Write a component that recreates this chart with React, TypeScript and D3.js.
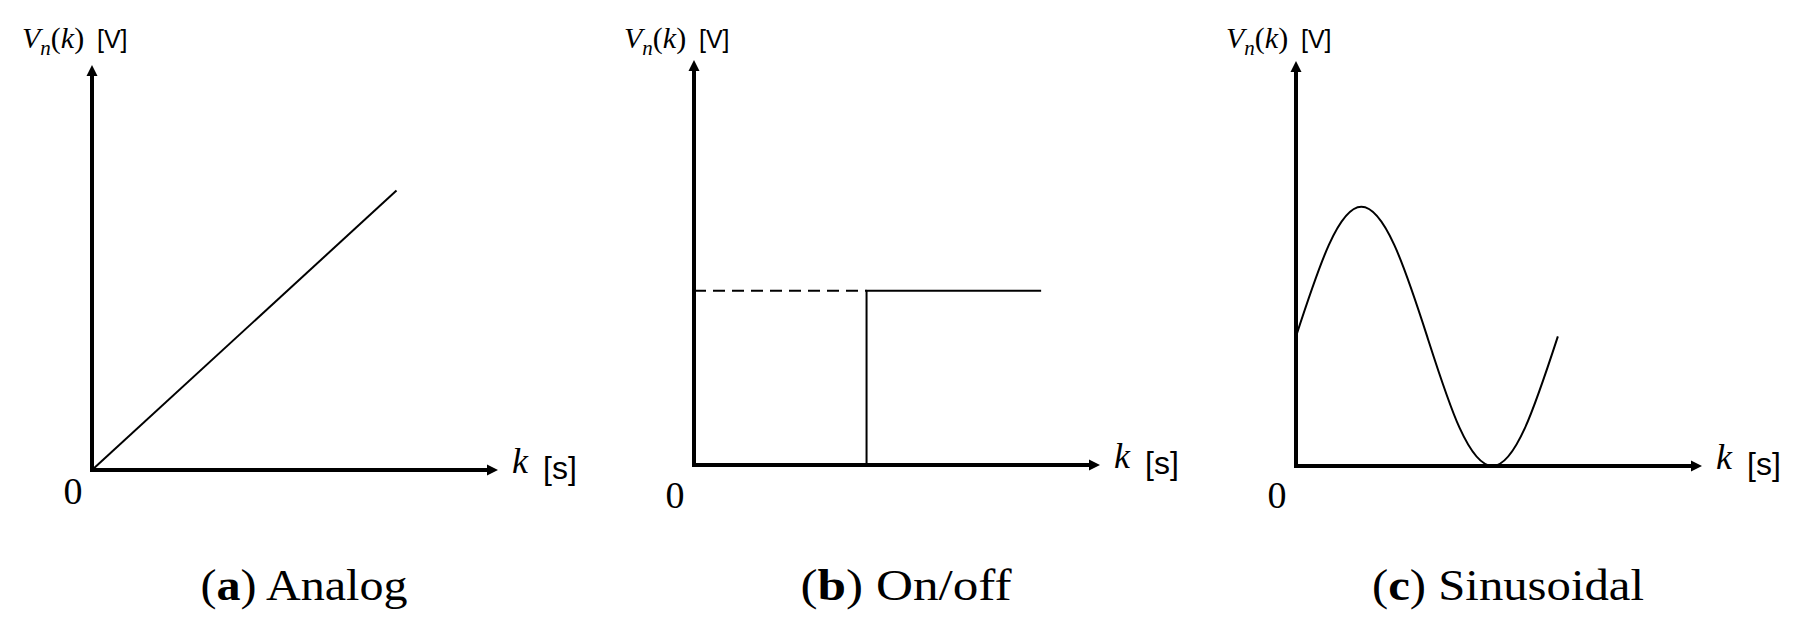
import React from "react";
import * as d3 from "d3";

const width = 1793;
const height = 624;

// axis frame of every panel, in px (x axis to arrow tip, y axis to arrow tip)
const axisW = 406;
const axisH = 405;
const serif = "Liberation Serif";
const sans = "Liberation Sans";

// data (axis domain 0..10 on both axes)
const analogK = [0, 7.5];
const analogV = [0, 6.9];

const onoffK = [4.25, 4.25, 8.55];
const onoffV = [0, 4.3, 4.3];
const onoffRefK = [0, 4.25];
const onoffRefV = [4.3, 4.3];

const sineK = [0, 0.81, 1.61, 2.42, 3.23, 4.03, 4.84, 5.64, 6.45];
const sineV = [3.2, 5.46, 6.4, 5.46, 3.2, 0.94, 0, 0.94, 3.2];

const captionLetters = ["a", "b", "c"];
const captionNames = ["Analog", "On/off", "Sinusoidal"];
const captionWidths = [207, 211, 272];

const layout = [
  { ox: 92, oy: 470, zeroY: 504 },
  { ox: 694, oy: 465, zeroY: 508 },
  { ox: 1296, oy: 466, zeroY: 508 }
];

type Series = { k: number[]; v: number[]; dashed?: boolean; curve?: d3.CurveFactory };

const seriesByPanel: Series[][] = [
  [{ k: analogK, v: analogV }],
  [
    { k: onoffRefK, v: onoffRefV, dashed: true },
    { k: onoffK, v: onoffV }
  ],
  [{ k: sineK, v: sineV, curve: d3.curveNatural }]
];

function Panel({ i }: { i: number }) {
  const { ox, oy, zeroY } = layout[i];
  const x = d3.scaleLinear().domain([0, 10]).range([ox, ox + axisW]);
  const y = d3.scaleLinear().domain([0, 10]).range([oy, oy - axisH]);
  const tipX = x(10);
  const tipY = y(10);
  const head = 11;
  const half = 5.5;

  return (
    <g>
      {seriesByPanel[i].map((s, j) => {
        const pts = s.k.map((k, n) => [k, s.v[n]] as [number, number]);
        const line = d3
          .line<[number, number]>()
          .x(d => x(d[0]))
          .y(d => y(d[1]))
          .curve(s.curve || d3.curveLinear);
        return (
          <path
            key={j}
            d={line(pts) || ""}
            fill="none"
            stroke="#000"
            strokeWidth={2}
            strokeDasharray={s.dashed ? "12 7" : undefined}
          />
        );
      })}

      {/* axes */}
      <path
        d={`M${ox},${tipY + head - 1}L${ox},${oy}L${tipX - head + 1},${oy}`}
        fill="none"
        stroke="#000"
        strokeWidth={4}
        strokeLinejoin="miter"
      />
      <polygon
        points={`${ox},${tipY} ${ox - half},${tipY + head} ${ox + half},${tipY + head}`}
        fill="#000"
      />
      <polygon
        points={`${tipX},${oy} ${tipX - head},${oy - half} ${tipX - head},${oy + half}`}
        fill="#000"
      />

      {/* y label */}
      <text x={ox - 70} y={48} fontFamily={serif} fontSize={30}>
        <tspan fontStyle="italic">V</tspan>
        <tspan fontStyle="italic" fontSize={21} dy={7}>n</tspan>
        <tspan dy={-7}>(</tspan>
        <tspan fontStyle="italic">k</tspan>
        <tspan>)</tspan>
      </text>
      <text x={ox + 5} y={48} fontFamily={sans} fontSize={25}>
        [V]
      </text>

      {/* x label */}
      <text x={tipX + 14} y={oy + 3} fontFamily={serif} fontSize={36} fontStyle="italic">
        k
      </text>
      <text x={tipX + 45} y={oy + 9} fontFamily={sans} fontSize={32}>
        [s]
      </text>

      <text x={ox - 19} y={zeroY} fontFamily={serif} fontSize={38} textAnchor="middle">
        0
      </text>

      {/* caption */}
      <text
        x={ox + 212}
        y={600}
        fontFamily={serif}
        fontSize={44}
        textAnchor="middle"
        textLength={captionWidths[i]}
        lengthAdjust="spacingAndGlyphs"
      >
        <tspan>(</tspan>
        <tspan fontWeight="bold">{captionLetters[i]}</tspan>
        <tspan>) {captionNames[i]}</tspan>
      </text>
    </g>
  );
}

export default function App() {
  return (
    <svg
      width={width}
      height={height}
      style={{ position: "absolute", left: 0, top: 0, background: "#fff" }}
    >
      <rect width={width} height={height} fill="#fff" />
      {layout.map((_, i) => (
        <Panel key={i} i={i} />
      ))}
    </svg>
  );
}
